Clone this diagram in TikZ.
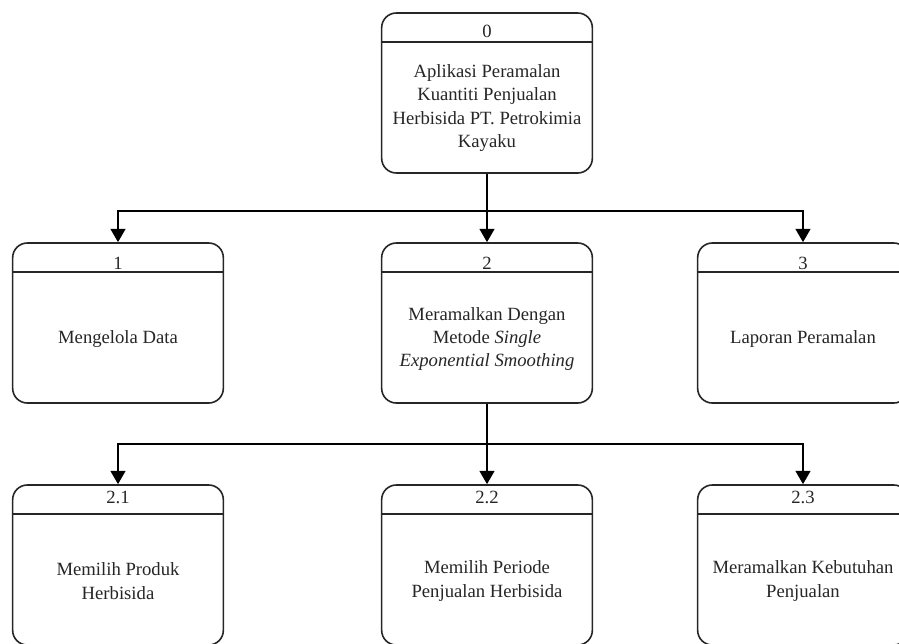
\documentclass[tikz,border=0pt]{standalone}
\usepackage{fontspec}
\setmainfont{Liberation Serif}
\usetikzlibrary{calc,arrows.meta}

\tikzset{
  procbox/.style={draw=black!85, line width=1.2pt, rounded corners=11pt,
    minimum width=158pt, minimum height=120pt, inner sep=0pt, fill=white},
  divider/.style={draw=black!85, line width=1.2pt},
  numlabel/.style={font=\fontsize{14pt}{17.5pt}\selectfont, text=black!85, inner sep=0pt},
  bodytext/.style={font=\fontsize{14pt}{17.5pt}\selectfont, text=black!85, align=center, inner sep=0pt},
  flow/.style={draw=black, line width=1.8pt, -{Triangle[length=10pt,width=11pt]}},
  bar/.style={draw=black, line width=1.8pt}
}

\begin{document}
\begin{tikzpicture}[x=0.75pt, y=-0.75pt]
  \useasboundingbox (0,0) rectangle (899,643);
  \clip (0,0) rectangle (899,643);

  % process boxes
  \node[procbox] (p0)  at (487,93)  {};
  \node[procbox] (p1)  at (118,323) {};
  \node[procbox] (p2)  at (487,323) {};
  \node[procbox] (p3)  at (803,323) {};
  \node[procbox] (p21) at (118,565) {};
  \node[procbox] (p22) at (487,565) {};
  \node[procbox] (p23) at (803,565) {};

  % header dividers
  \foreach \b in {p0,p1,p2,p3,p21,p22,p23}
    \draw[divider] ($(\b.north west)+(0,30)$) -- ($(\b.north east)+(0,30)$);

  % process numbers
  \node[numlabel] (n0)  at ($(p0.north)+(0,19)$)  {0};
  \node[numlabel] (n1)  at ($(p1.north)+(0,21)$)  {1};
  \node[numlabel] (n2)  at ($(p2.north)+(0,21)$)  {2};
  \node[numlabel] (n3)  at ($(p3.north)+(0,21)$)  {3};
  \node[numlabel] (n21) at ($(p21.north)+(0,13)$) {2.1};
  \node[numlabel] (n22) at ($(p22.north)+(0,13)$) {2.2};
  \node[numlabel] (n23) at ($(p23.north)+(0,13)$) {2.3};

  % process names
  \node[bodytext] (t0)  at ($(p0.center)+(0,15)$)
    {Aplikasi Peramalan\\Kuantiti Penjualan\\Herbisida PT. Petrokimia\\Kayaku};
  \node[bodytext] (t1)  at ($(p1.center)+(0,16)$) {Mengelola Data};
  \node[bodytext] (t2)  at ($(p2.center)+(0,16)$)
    {Meramalkan Dengan\\Metode \textit{Single}\\\textit{Exponential Smoothing}};
  \node[bodytext] (t3)  at ($(p3.center)+(0,16)$) {Laporan Peramalan};
  \node[bodytext] (t21) at ($(p21.center)+(0,16)$) {Memilih Produk\\Herbisida};
  \node[bodytext] (t22) at ($(p22.center)+(0,16)$) {Memilih Periode\\Penjualan Herbisida};
  \node[bodytext] (t23) at ($(p23.center)+(0,16)$) {Meramalkan Kebutuhan\\Penjualan};

  % decomposition of process 0
  \coordinate (j0) at ($(p0.south)+(0,37)$);
  \draw[flow] (p0.south) -- (p2.north);
  \draw[flow] (j0) -| (p1.north);
  \draw[flow] (j0) -| (p3.north);

  % decomposition of process 2
  \coordinate (j2) at ($(p2.south)+(0,40)$);
  \draw[flow] (p2.south) -- (p22.north);
  \draw[flow] (j2) -| (p21.north);
  \draw[flow] (j2) -| (p23.north);
\end{tikzpicture}
\end{document}
